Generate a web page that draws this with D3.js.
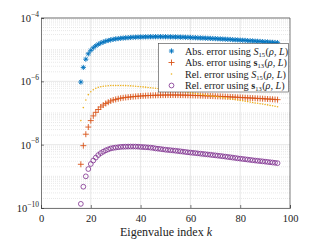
<!DOCTYPE html>
<html><head><meta charset="utf-8">
<script src="https://cdn.jsdelivr.net/npm/d3@7/dist/d3.min.js"></script>
<style>body{margin:0;background:#fff;}svg{display:block;}</style>
</head><body>
<svg id="c" width="321" height="241"></svg>
<script>
const kStart = 16;
const absS15 = [9.5e-7,2.75e-6,5.0e-6,7.4e-6,9.5e-6,1.15e-5,1.32e-5,1.48e-5,1.62e-5,1.74e-5,1.86e-5,1.95e-5,2.04e-5,2.12e-5,2.19e-5,2.24e-5,2.29e-5,2.33e-5,2.37e-5,2.40e-5,2.43e-5,2.46e-5,2.48e-5,2.50e-5,2.52e-5,2.53e-5,2.54e-5,2.55e-5,2.56e-5,2.56e-5,2.57e-5,2.57e-5,2.57e-5,2.56e-5,2.56e-5,2.55e-5,2.54e-5,2.53e-5,2.52e-5,2.51e-5,2.49e-5,2.48e-5,2.46e-5,2.45e-5,2.43e-5,2.41e-5,2.39e-5,2.37e-5,2.35e-5,2.33e-5,2.31e-5,2.29e-5,2.27e-5,2.25e-5,2.23e-5,2.21e-5,2.19e-5,2.16e-5,2.14e-5,2.12e-5,2.10e-5,2.07e-5,2.05e-5,2.03e-5,2.00e-5,1.98e-5,1.96e-5,1.93e-5,1.91e-5,1.89e-5,1.86e-5,1.84e-5,1.82e-5,1.79e-5,1.77e-5,1.75e-5,1.72e-5,1.70e-5,1.68e-5,1.66e-5];
const absS13 = [2.4e-9,9.3e-9,2.14e-8,3.6e-8,5.75e-8,8.1e-8,1.05e-7,1.29e-7,1.55e-7,1.78e-7,2.0e-7,2.19e-7,2.4e-7,2.57e-7,2.69e-7,2.82e-7,2.93e-7,3.02e-7,3.1e-7,3.16e-7,3.22e-7,3.28e-7,3.34e-7,3.39e-7,3.44e-7,3.48e-7,3.52e-7,3.55e-7,3.58e-7,3.61e-7,3.63e-7,3.65e-7,3.67e-7,3.68e-7,3.69e-7,3.70e-7,3.70e-7,3.70e-7,3.70e-7,3.69e-7,3.68e-7,3.67e-7,3.66e-7,3.64e-7,3.62e-7,3.60e-7,3.58e-7,3.56e-7,3.54e-7,3.52e-7,3.49e-7,3.47e-7,3.44e-7,3.42e-7,3.39e-7,3.36e-7,3.34e-7,3.31e-7,3.28e-7,3.25e-7,3.22e-7,3.19e-7,3.16e-7,3.13e-7,3.10e-7,3.07e-7,3.04e-7,3.01e-7,2.98e-7,2.95e-7,2.92e-7,2.89e-7,2.86e-7,2.83e-7,2.80e-7,2.77e-7,2.74e-7,2.71e-7,2.67e-7,2.64e-7];
const relS15 = [5.75e-8,1.48e-7,2.57e-7,3.8e-7,4.7e-7,5.4e-7,6.0e-7,6.45e-7,6.75e-7,7.0e-7,7.15e-7,7.25e-7,7.35e-7,7.4e-7,7.42e-7,7.42e-7,7.4e-7,7.37e-7,7.33e-7,7.28e-7,7.2e-7,7.1e-7,7.0e-7,6.9e-7,6.78e-7,6.66e-7,6.54e-7,6.42e-7,6.3e-7,6.17e-7,6.06e-7,5.95e-7,5.84e-7,5.73e-7,5.62e-7,5.5e-7,5.38e-7,5.25e-7,5.12e-7,5.0e-7,4.87e-7,4.74e-7,4.62e-7,4.5e-7,4.37e-7,4.25e-7,4.13e-7,4.02e-7,3.91e-7,3.8e-7,3.7e-7,3.6e-7,3.5e-7,3.4e-7,3.31e-7,3.22e-7,3.13e-7,3.05e-7,2.96e-7,2.88e-7,2.8e-7,2.73e-7,2.65e-7,2.58e-7,2.51e-7,2.44e-7,2.36e-7,2.29e-7,2.21e-7,2.14e-7,2.08e-7,2.03e-7,1.97e-7,1.92e-7,1.86e-7,1.80e-7,1.74e-7,1.69e-7,1.63e-7,1.58e-7];
const relS13 = [1.35e-10,4.7e-10,1.0e-9,1.7e-9,2.45e-9,3.16e-9,3.9e-9,4.7e-9,5.4e-9,6.0e-9,6.6e-9,7.1e-9,7.6e-9,7.9e-9,8.1e-9,8.3e-9,8.5e-9,8.6e-9,8.65e-9,8.7e-9,8.72e-9,8.72e-9,8.7e-9,8.65e-9,8.5e-9,8.4e-9,8.3e-9,8.2e-9,8.05e-9,7.9e-9,7.6e-9,7.45e-9,7.3e-9,7.1e-9,6.92e-9,6.8e-9,6.68e-9,6.56e-9,6.43e-9,6.3e-9,6.16e-9,6.02e-9,5.88e-9,5.74e-9,5.62e-9,5.52e-9,5.42e-9,5.31e-9,5.2e-9,5.1e-9,5.0e-9,4.9e-9,4.8e-9,4.7e-9,4.6e-9,4.5e-9,4.4e-9,4.3e-9,4.2e-9,4.1e-9,4.0e-9,3.9e-9,3.8e-9,3.7e-9,3.62e-9,3.54e-9,3.46e-9,3.38e-9,3.3e-9,3.22e-9,3.15e-9,3.09e-9,3.03e-9,2.97e-9,2.91e-9,2.85e-9,2.79e-9,2.73e-9,2.67e-9,2.61e-9];
const xTicks = [0,20,40,60,80,100];
const yTickExps = ["-4","-6","-8","-10"];
const yTickVals = [1e-4,1e-6,1e-8,1e-10];
const legendLabels = [
  ["Abs. error using ", "S", "15", false],
  ["Abs. error using ", "s", "13", true],
  ["Rel. error using ", "S", "15", false],
  ["Rel. error using ", "s", "13", true]
];
const colors = ["#0072BD","#D95319","#EDB120","#7E2F8E"];

const svg = d3.select("#c");
const L = 41, R = 290, T = 18, B = 208;
const x = d3.scaleLinear().domain([0,100]).range([L,R]);
const y = d3.scaleLog().domain([1e-10,1e-4]).range([B,T]);
const font = "'Liberation Serif','DejaVu Serif',serif";

// grid
const g = svg.append("g");
for (let e=-10; e<-4; e++) {
  for (let m=1; m<=9; m++) {
    if (m===1 && e%2===0) continue;
    const v = m*Math.pow(10,e);
    g.append("line").attr("x1",L).attr("x2",R).attr("y1",y(v)).attr("y2",y(v))
      .attr("stroke","#d9d9d9").attr("stroke-width",0.6).attr("stroke-dasharray","1,1");
  }
}
yTickVals.forEach(v=>{
  g.append("line").attr("x1",L).attr("x2",R).attr("y1",y(v)).attr("y2",y(v))
    .attr("stroke","#dedede").attr("stroke-width",0.7);
});
xTicks.slice(1,-1).forEach(v=>{
  g.append("line").attr("x1",x(v)).attr("x2",x(v)).attr("y1",T).attr("y2",B)
    .attr("stroke","#dedede").attr("stroke-width",0.7);
});

// axes
const xAxis = d3.axisBottom(x).tickValues(xTicks).tickSize(-3).tickPadding(7).tickFormat(d3.format("d"));
const xg = svg.append("g").attr("transform",`translate(0,${B})`).call(xAxis);
xg.select(".domain").attr("stroke","#444").attr("stroke-width",0.7);
xg.selectAll(".tick line").attr("stroke","#444").attr("stroke-width",0.7);
xg.selectAll("text").attr("font-family",font).attr("font-size",10.5).attr("fill","#222");
const yAxis = d3.axisLeft(y).tickValues(yTickVals).tickSize(-3).tickFormat("");
const yg = svg.append("g").attr("transform",`translate(${L},0)`).call(yAxis);
yg.select(".domain").attr("stroke","#444").attr("stroke-width",0.7);
yg.selectAll(".tick line").attr("stroke","#444").attr("stroke-width",0.7);
svg.append("line").attr("x1",L).attr("x2",R).attr("y1",T).attr("y2",T).attr("stroke","#444").attr("stroke-width",0.7);
svg.append("line").attr("x1",R).attr("x2",R).attr("y1",T).attr("y2",B).attr("stroke","#444").attr("stroke-width",0.7);

yTickVals.forEach((v,i)=>{
  const t = svg.append("text").attr("x",L-2).attr("y",y(v)+4).attr("text-anchor","end")
    .attr("font-family",font).attr("font-size",10.5).attr("fill","#222");
  t.append("tspan").text("10");
  t.append("tspan").attr("dy",-5.5).attr("font-size",7.5).text("\u2212"+yTickExps[i].slice(1));
});

svg.append("text").attr("x",166).attr("y",236).attr("text-anchor","middle")
  .attr("font-family",font).attr("font-size",12).attr("fill","#222")
  .call(t=>{t.append("tspan").text("Eigenvalue index ");t.append("tspan").attr("font-style","italic").text("k");});

// markers
function star(r){const a=r*0.7;return `M0,${-r}L0,${r}M${-r},0L${r},0M${-a},${-a}L${a},${a}M${-a},${a}L${a},${-a}`;}
function plus(r){return `M0,${-r}L0,${r}M${-r},0L${r},0`;}
const series = [absS15, absS13, relS15, relS13];
function drawMarker(sel, i){
  if (i===0) sel.append("path").attr("d",star(2.6)).attr("stroke",colors[0]).attr("stroke-width",0.9).attr("fill","none");
  else if (i===1) sel.append("path").attr("d",plus(3)).attr("stroke",colors[1]).attr("stroke-width",0.9).attr("fill","none");
  else if (i===2) sel.append("circle").attr("r",0.8).attr("fill",colors[2]);
  else sel.append("circle").attr("r",2.4).attr("stroke",colors[3]).attr("stroke-width",0.8).attr("fill","none");
}
series.forEach((s,i)=>{
  const gg = svg.append("g");
  s.forEach((v,j)=>{
    const m = gg.append("g").attr("transform",`translate(${x(kStart+j)},${y(v)})`);
    drawMarker(m,i);
  });
});

// legend
const lg = svg.append("g");
lg.append("rect").attr("x",158.5).attr("y",43.5).attr("width",130).attr("height",48.5)
  .attr("fill","#fff").attr("stroke","#444").attr("stroke-width",0.6);
legendLabels.forEach((lab,i)=>{
  const yy = 51 + i*11.5;
  const m = lg.append("g").attr("transform",`translate(171.5,${yy})`);
  drawMarker(m,i);
  const t = lg.append("text").attr("x",185).attr("y",yy+3.5).attr("font-family",font).attr("font-size",10.2).attr("fill","#222");
  t.append("tspan").text(lab[0]);
  const sym = t.append("tspan").attr("font-style",lab[3]?"normal":"italic").text(lab[1]);
  if (lab[3]) sym.attr("font-weight","bold");
  t.append("tspan").attr("dy",2).attr("font-size",6.5).text(lab[2]);
  t.append("tspan").attr("dy",-2).attr("dx",0.5).text("(");
  t.append("tspan").attr("font-style","italic").text("\u03C1");
  t.append("tspan").text(", ");
  t.append("tspan").attr("font-style","italic").text("L");
  t.append("tspan").text(")");
});
</script>
</body></html>
